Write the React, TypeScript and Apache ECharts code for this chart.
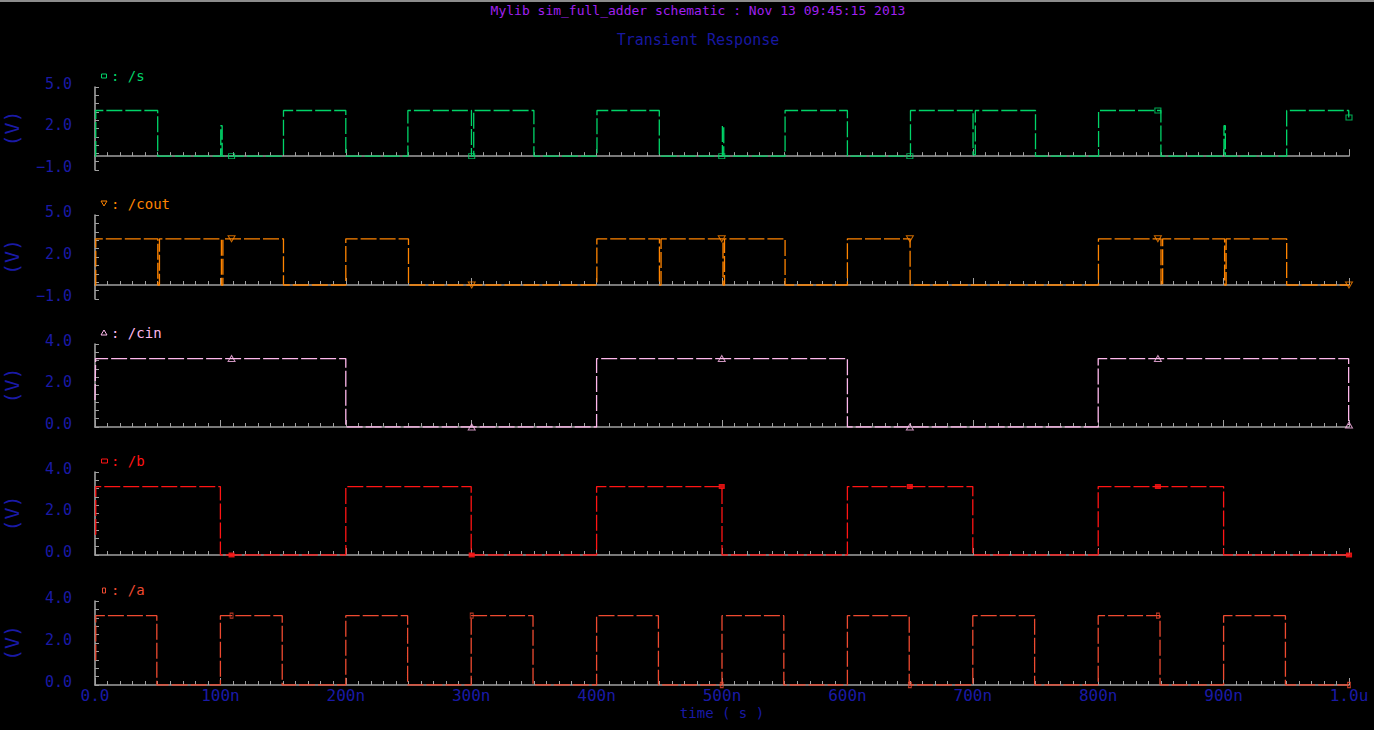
import React, { useEffect, useRef } from "react";
import * as echarts from "echarts";

// ---------- data (time in ns, value in V) ----------
const signalNames = ["/s", "/cout", "/cin", "/b", "/a"];

// step data: [time at which the level changes, new level]
const sSteps: number[][] = [
  [0, 0], [0.6, 3.3], [50, 0], [100.3, 2.2], [101.4, 0], [150.3, 3.3], [200, 0],
  [249.5, 3.3], [300.2, 0], [302, 3.3], [350, 0], [400.3, 3.3], [450, 0],
  [500.3, 2.2], [501.4, 0], [550.3, 3.3], [600, 0], [650.3, 3.3], [700.2, 0.1],
  [702, 3.3], [750, 0], [800.3, 3.3], [850, 0], [900.3, 2.2], [901.4, 0],
  [950.3, 3.3], [999.8, 2.8], [1000, 2.8],
];
const coutSteps: number[][] = [
  [0, 0], [0.6, 3.3], [50.1, 0], [51.4, 3.3], [100.8, 0], [102, 3.3], [150.3, 0],
  [200, 3.3], [250, 0], [400.2, 3.3], [450.1, 0], [451.4, 3.3], [500.8, 0],
  [502, 3.3], [550.3, 0], [600, 3.3], [650, 0], [800.2, 3.3], [850.1, 0],
  [851.4, 3.3], [900.8, 0], [902, 3.3], [950.3, 0], [1000, 0],
];
const cinSteps: number[][] = [
  [0, 1.3], [0.5, 3.3], [200, 0], [400, 3.3], [600, 0], [800, 3.3], [999.7, 0.1], [1000, 0.1],
];
const bSteps: number[][] = [
  [0, 1.0], [0.6, 3.3], [100, 0], [200, 3.3], [300, 0], [400, 3.3], [500, 0],
  [600, 3.3], [700, 0], [800, 3.3], [900, 0], [1000, 0],
];
const aSteps: number[][] = [
  [0, 1.2], [0.6, 3.3], [49.3, 0], [100, 3.3], [149.3, 0], [200, 3.3], [249.3, 0],
  [300, 3.3], [349.3, 0], [400, 3.3], [449.3, 0], [500, 3.3], [549.3, 0],
  [600, 3.3], [649.3, 0], [700, 3.3], [749.3, 0], [800, 3.3], [849.3, 0],
  [900, 3.3], [949.3, 0], [1000, 0],
];
const markerTimes = [108.9, 300.4, 499.8, 649.8, 847.6, 1000];

const xTickValues = [0, 100, 200, 300, 400, 500, 600, 700, 800, 900, 1000];
const xTickLabels = ["0.0", "100n", "200n", "300n", "400n", "500n", "600n", "700n", "800n", "900n", "1.0u"];

const yLabelValuesSigned = [-1, 2, 5];
const yLabelTextSigned = ["\u22121.0", "2.0", "5.0"];
const yTickValuesSigned = [-1, -0.4, 0.2, 0.8, 1.4, 2, 2.6, 3.2, 3.8, 4.4, 5];
const yLabelValuesPos = [0, 2, 4];
const yLabelTextPos = ["0.0", "2.0", "4.0"];
const yTickValuesPos = [0, 0.4, 0.8, 1.2, 1.6, 2, 2.4, 2.8, 3.2, 3.6, 4];

// ---------- styles ----------
const MONO = "DejaVu Sans Mono";
const BLUE = "#1a1aa6";
const GRAY = "#a0a0a0";
const panelTops = [87, 215, 344, 472, 601];
const panelHeights = [83, 84, 83, 83, 84];
const colors = ["#00d468", "#ff8400", "#ffb8ec", "#ff1414", "#ee4a30"];

function valueAt(steps: number[][], t: number) {
  let v = steps[0][1];
  for (const [tt, vv] of steps) {
    if (tt <= t) v = vv;
    else break;
  }
  return v;
}

export default function App() {
  const ref = useRef<HTMLDivElement>(null);
  useEffect(() => {
    document.body.style.margin = "0";
    document.body.style.background = "#000";
    const chart = echarts.init(ref.current!, undefined, { renderer: "svg" });

    const allSteps = [sSteps, coutSteps, cinSteps, bSteps, aSteps];
    const signed = [true, true, false, false, false];
    const markerSymbols = ["rect", "triangle", "triangle", "rect", "rect"];
    const markerRot = [0, 180, 0, 0, 0];
    const markerSizes: any[] = [[6, 5], [7, 6], [7, 6], [5, 4], [3, 5]];
    const markerFilled = [false, false, false, true, false];

    const grid = panelTops.map((top, i) => ({
      left: 95,
      width: 1254,
      top,
      height: panelHeights[i],
      containLabel: false,
      outerBoundsMode: "none",
    }));

    const xAxis = panelTops.map((_, i) => ({
      type: "value",
      gridIndex: i,
      min: 0,
      max: 1000,
      interval: 100,
      splitNumber: 10,
      axisLine: { show: true, lineStyle: { color: GRAY, width: 1.6 } },
      axisTick: { show: true, inside: true, length: 7, lineStyle: { color: GRAY, width: 1 } },
      minorTick: { show: true, splitNumber: 10, length: 4, lineStyle: { color: GRAY, width: 1 } },
      splitLine: { show: false },
      minorSplitLine: { show: false },
      axisLabel: {
        show: i === 4,
        color: BLUE,
        fontFamily: MONO,
        fontSize: 16,
        margin: 2,
        showMaxLabel: true,
        showMinLabel: true,
        formatter: (v: number) => {
          const k = xTickValues.indexOf(Math.round(v));
          return k >= 0 ? xTickLabels[k] : "";
        },
      },
      name: i === 4 ? "time ( s )" : "",
      nameLocation: "middle",
      nameGap: 21,
      nameTextStyle: { color: BLUE, fontFamily: MONO, fontSize: 14 },
    }));

    const yAxis = panelTops.map((_, i) => {
      const sg = signed[i];
      const lv = sg ? yLabelValuesSigned : yLabelValuesPos;
      const lt = sg ? yLabelTextSigned : yLabelTextPos;
      return {
        type: "value",
        gridIndex: i,
        min: sg ? -1 : 0,
        max: sg ? 5 : 4,
        axisLine: { show: true, lineStyle: { color: GRAY, width: 1.6 } },
        axisTick: {
          show: true,
          inside: true,
          length: 4,
          customValues: sg ? yTickValuesSigned : yTickValuesPos,
          lineStyle: { color: GRAY, width: 1 },
        },
        splitLine: { show: false },
        axisLabel: {
          show: true,
          customValues: lv,
          color: BLUE,
          fontFamily: MONO,
          fontSize: 15,
          margin: 23,
          verticalAlign: "bottom",
          lineHeight: 7,
          formatter: (v: number) => {
            for (let k = 0; k < lv.length; k++) if (Math.abs(lv[k] - v) < 1e-6) return lt[k];
            return "";
          },
        },
        name: "(V)",
        nameLocation: "middle",
        nameGap: 73,
        nameRotate: 90,
        nameTextStyle: { color: BLUE, fontFamily: MONO, fontSize: 20 },
      };
    });

    const series: any[] = [];
    allSteps.forEach((steps, i) => {
      series.push({
        type: "line",
        name: signalNames[i],
        xAxisIndex: i,
        yAxisIndex: i,
        data: steps,
        step: "end",
        showSymbol: false,
        symbol: "none",
        lineStyle: { color: colors[i], width: 1.3, type: [16, 3] },
        z: 3,
      });
      series.push({
        type: "scatter",
        xAxisIndex: i,
        yAxisIndex: i,
        data: markerTimes.map((t) => [t, valueAt(steps, t)]),
        symbol: markerSymbols[i],
        symbolRotate: markerRot[i],
        symbolSize: markerSizes[i],
        itemStyle: {
          color: markerFilled[i] ? colors[i] : "rgba(0,0,0,0)",
          borderColor: colors[i],
          borderWidth: 1,
        },
        z: 4,
      });
    });

    const graphic: any[] = [
      { type: "rect", shape: { x: 0, y: 0, width: 1374, height: 2 }, style: { fill: "#8c8c8c" } },
      {
        type: "text",
        x: 698,
        y: 10,
        style: {
          text: "Mylib sim_full_adder schematic : Nov 13 09:45:15 2013",
          fill: "#a020f0",
          font: `13px "${MONO}"`,
          textAlign: "center",
          textVerticalAlign: "middle",
        },
      },
      {
        type: "text",
        x: 698,
        y: 40,
        style: {
          text: "Transient Response",
          fill: "#1818a0",
          font: `15px "${MONO}"`,
          textAlign: "center",
          textVerticalAlign: "middle",
        },
      },
    ];
    panelTops.forEach((top, i) => {
      const cy = top - 11;
      const c = colors[i];
      let sym: any;
      if (i === 0) sym = { type: "rect", shape: { x: 101.5, y: cy - 2, width: 5, height: 4 }, style: { fill: "none", stroke: c, lineWidth: 1 } };
      else if (i === 1) sym = { type: "polygon", shape: { points: [[101, cy - 3], [107, cy - 3], [104, cy + 2]] }, style: { fill: "none", stroke: c, lineWidth: 1 } };
      else if (i === 2) sym = { type: "polygon", shape: { points: [[101, cy + 2], [107, cy + 2], [104, cy - 3]] }, style: { fill: "none", stroke: c, lineWidth: 1 } };
      else if (i === 3) sym = { type: "rect", shape: { x: 101.5, y: cy - 2, width: 6, height: 4 }, style: { fill: "none", stroke: c, lineWidth: 1 } };
      else sym = { type: "rect", shape: { x: 102.5, y: cy - 2, width: 3, height: 5 }, style: { fill: "none", stroke: c, lineWidth: 1 } };
      graphic.push(sym);
      graphic.push({
        type: "text",
        x: 111,
        y: cy,
        style: {
          text: ": " + signalNames[i],
          fill: c,
          font: `14px "${MONO}"`,
          textAlign: "left",
          textVerticalAlign: "middle",
        },
      });
    });

    chart.setOption({
      animation: false,
      backgroundColor: "#000000",
      grid,
      xAxis,
      yAxis,
      series,
      graphic,
    });
    return () => chart.dispose();
  }, []);
  return <div ref={ref} style={{ width: 1374, height: 730, background: "#000" }} />;
}
